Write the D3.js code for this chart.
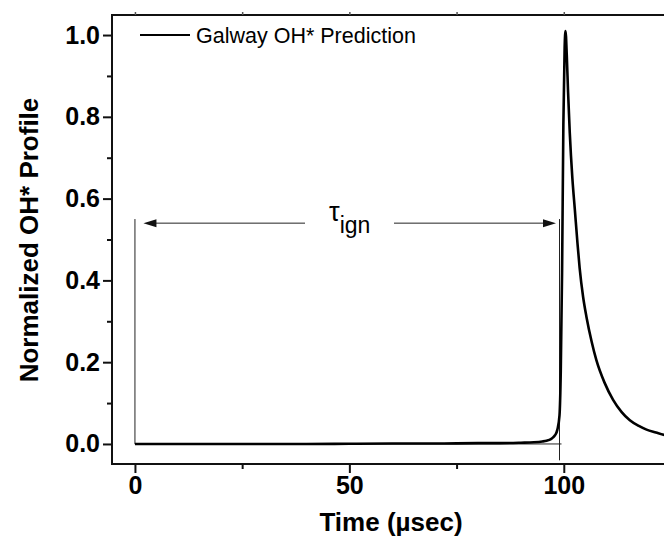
<!DOCTYPE html>
<html>
<head>
<meta charset="utf-8">
<script src="https://cdn.jsdelivr.net/npm/d3@7"></script>
<style>
  html, body { margin: 0; padding: 0; background: #fff; }
  svg { display: block; }
</style>
</head>
<body>
<svg id="chart" width="664" height="550"></svg>
<script>
// Simulated OH* emission profile (normalized) versus time
const timeUs = [0, 10, 20, 30, 40, 50, 60, 70, 80, 85, 90, 93, 95, 96, 97, 97.5, 98, 98.5, 99, 99.3, 99.6, 99.9, 100.2, 100.4, 100.7, 101, 101.4, 102, 102.6, 103.2, 103.7, 104.5, 105.3, 106.5, 107.6, 109.5, 111.5, 113.5, 115.4, 117.5, 119.3, 121.5, 123.5, 126];
const ohStar = [0, 0, 0, 0, 0, 0.0005, 0.001, 0.001, 0.002, 0.002, 0.003, 0.004, 0.006, 0.008, 0.012, 0.016, 0.022, 0.035, 0.07, 0.18, 0.42, 0.78, 0.97, 1.01, 0.95, 0.86, 0.76, 0.65, 0.57, 0.49, 0.43, 0.36, 0.31, 0.25, 0.205, 0.15, 0.108, 0.078, 0.058, 0.044, 0.035, 0.028, 0.022, 0.018];

const xMajorTicks = [0, 50, 100];
const xMinorTicks = [25, 75, 125];
const yMajorTicks = [0, 0.2, 0.4, 0.6, 0.8, 1.0];
const yMinorTicks = [0.1, 0.3, 0.5, 0.7, 0.9];

// Ignition delay annotation: start, end (µs) and heights
const ignStart = 0;
const ignEnd = 99;
const ignMarkerTop = 0.55;
const ignArrowLevel = 0.54;
const ignEndBottom = -0.04;

const legendLabel = "Galway OH* Prediction";
const xTitle = "Time (\u00b5sec)";
const yTitle = "Normalized OH* Profile";

const svg = d3.select("#chart");
const plotLeft = 112, plotTop = 15, plotBottom = 464, plotRight = 671;

const x = d3.scaleLinear().domain([-5.35, 125]).range([plotLeft, plotRight]);
const y = d3.scaleLinear().domain([-0.049, 1.049]).range([plotBottom, plotTop]);

const font = "'Liberation Sans', Arial, sans-serif";

// Frame (left, top, bottom)
const frame = svg.append("g").attr("stroke", "#111").attr("stroke-width", 2).attr("fill", "none");
frame.append("path").attr("d", `M${plotRight + 20},${plotTop}H${plotLeft}V${plotBottom}H${plotRight + 20}`);

// Bottom axis
const xAxis = d3.axisBottom(x).tickValues(xMajorTicks).tickSize(9).tickSizeOuter(0).tickPadding(3).tickFormat(d3.format("d"));
const gx = svg.append("g").attr("transform", `translate(0,${plotBottom})`).call(xAxis);
gx.select(".domain").remove();
gx.selectAll(".tick line").attr("stroke", "#111").attr("stroke-width", 2);
gx.selectAll(".tick text").attr("font-family", font).attr("font-weight", "bold").attr("font-size", 25).attr("fill", "#000");
const gxm = svg.append("g").attr("transform", `translate(0,${plotBottom})`).call(d3.axisBottom(x).tickValues(xMinorTicks).tickSize(5).tickFormat(""));
gxm.select(".domain").remove();
gxm.selectAll(".tick line").attr("stroke", "#111").attr("stroke-width", 2);

// Top axis: tiny marks only
const gt = svg.append("g").attr("transform", `translate(0,${plotTop})`).call(d3.axisTop(x).tickValues(xMajorTicks.concat(xMinorTicks)).tickSize(3).tickFormat(""));
gt.select(".domain").remove();
gt.selectAll(".tick line").attr("stroke", "#555").attr("stroke-width", 1.5);

// Left axis
const yAxis = d3.axisLeft(y).tickValues(yMajorTicks).tickSize(9).tickSizeOuter(0).tickPadding(3).tickFormat(d3.format(".1f"));
const gy = svg.append("g").attr("transform", `translate(${plotLeft},0)`).call(yAxis);
gy.select(".domain").remove();
gy.selectAll(".tick line").attr("stroke", "#111").attr("stroke-width", 2);
gy.selectAll(".tick text").attr("font-family", font).attr("font-weight", "bold").attr("font-size", 25).attr("fill", "#000");
const gym = svg.append("g").attr("transform", `translate(${plotLeft},0)`).call(d3.axisLeft(y).tickValues(yMinorTicks).tickSize(5).tickFormat(""));
gym.select(".domain").remove();
gym.selectAll(".tick line").attr("stroke", "#111").attr("stroke-width", 2);

// Axis titles
svg.append("text").attr("x", 391).attr("y", 531).attr("text-anchor", "middle")
  .attr("font-family", font).attr("font-weight", "bold").attr("font-size", 26).text(xTitle);
svg.append("text").attr("transform", `translate(38,${240}) rotate(-90)`).attr("text-anchor", "middle")
  .attr("font-family", font).attr("font-weight", "bold").attr("font-size", 26).text(yTitle);

// Ignition delay markers
const ann = svg.append("g").attr("stroke", "#222").attr("stroke-width", 1).attr("fill", "none");
ann.append("line").attr("x1", x(ignStart)).attr("x2", x(ignStart)).attr("y1", y(ignMarkerTop)).attr("y2", y(0));
ann.append("line").attr("x1", x(ignEnd)).attr("x2", x(ignEnd)).attr("y1", y(ignMarkerTop)).attr("y2", y(ignEndBottom));
ann.append("line").attr("x1", x(ignStart)).attr("x2", x(ignEnd) + 2).attr("y1", y(0)).attr("y2", y(0));

// Double-headed arrow with a gap for the label
const ay = y(ignArrowLevel);
const tipL = x(ignStart) + 8.5, tipR = x(ignEnd) - 3.5;
const gapL = 305, gapR = 394;
ann.append("line").attr("x1", tipL + 6).attr("x2", gapL).attr("y1", ay).attr("y2", ay);
ann.append("line").attr("x1", gapR).attr("x2", tipR - 6).attr("y1", ay).attr("y2", ay);
svg.append("path").attr("fill", "#111")
  .attr("d", `M${tipL},${ay}L${tipL + 13},${ay - 4}L${tipL + 13},${ay + 4}Z`);
svg.append("path").attr("fill", "#111")
  .attr("d", `M${tipR},${ay}L${tipR - 13},${ay - 4}L${tipR - 13},${ay + 4}Z`);

const tau = svg.append("text").attr("x", 329).attr("y", 221).attr("font-family", font).attr("font-size", 27).attr("fill", "#000");
tau.append("tspan").text("\u03c4");
tau.append("tspan").attr("dy", 12).attr("font-size", 23).text("ign");

// Profile curve
const line = d3.line().x((d, i) => x(timeUs[i])).y(d => y(d)).curve(d3.curveMonotoneX);
svg.append("path").datum(ohStar).attr("d", line)
  .attr("fill", "none").attr("stroke", "#000").attr("stroke-width", 2.6).attr("stroke-linejoin", "round");

// Legend
const lg = svg.append("g");
lg.append("line").attr("x1", 140).attr("x2", 190).attr("y1", 35).attr("y2", 35).attr("stroke", "#000").attr("stroke-width", 2);
lg.append("text").attr("x", 196).attr("y", 43).attr("font-family", font).attr("font-size", 21.5).attr("fill", "#000").text(legendLabel);
</script>
</body>
</html>
